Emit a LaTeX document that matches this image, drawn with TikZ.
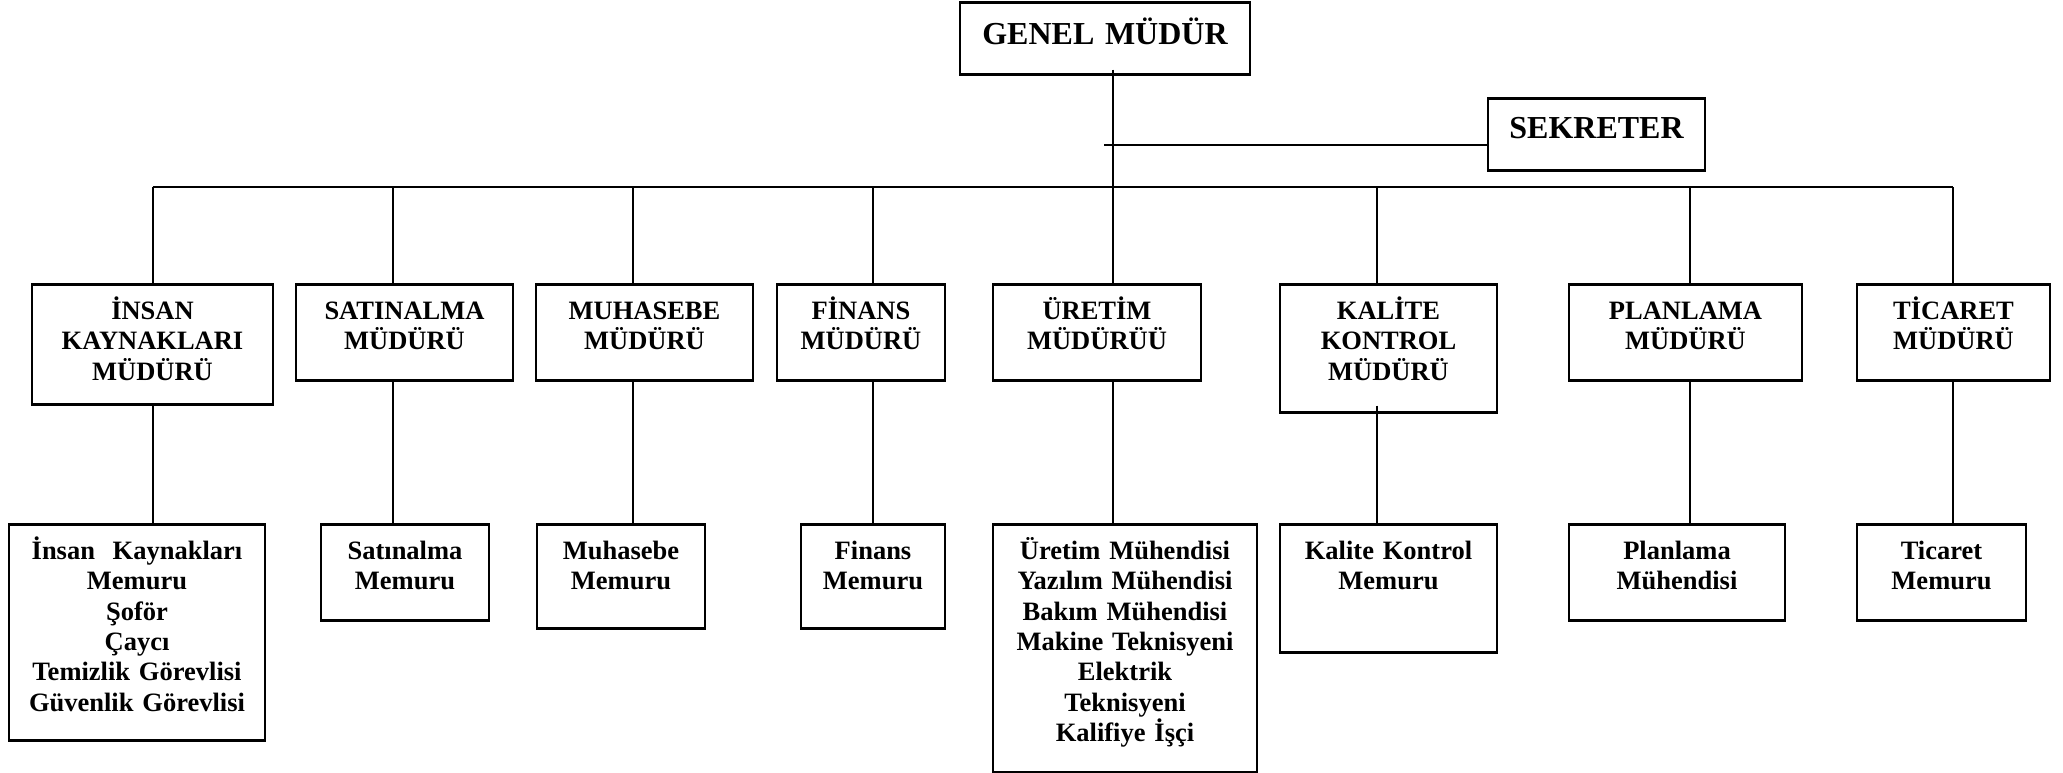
\documentclass[tikz,border=0pt]{standalone}
\usepackage{fontspec}
\setmainfont{Liberation Serif}
\begin{document}
\begin{tikzpicture}[x=0.5pt,y=-0.5pt,
  box/.style={draw, line width=1.3pt, inner sep=0pt, anchor=north, align=center,
    text height=17.5pt, font=\bfseries\fontsize{13.25}{15.2}\selectfont},
  headbox/.style={box, font=\bfseries\fontsize{16}{18}\selectfont},
  link/.style={line width=1pt}]
\useasboundingbox (0,0) rectangle (2063,772);

% top management
\node[headbox, text width=145pt, text height=21pt, text depth=15pt] (gm) at (1105,1) {GENEL MÜDÜR};
\node[headbox, text width=108.5pt, text height=20pt, text depth=16pt] (sk) at (1596.5,97) {SEKRETER};

% department managers
\node[box, text width=120.5pt, text depth=42.5pt] (hr)  at (152.5,283) {İNSAN\\KAYNAKLARI\\MÜDÜRÜ};
\node[box, text width=108.5pt, text depth=30.5pt] (sat) at (404.5,283) {SATINALMA\\MÜDÜRÜ};
\node[box, text width=108.5pt, text depth=30.5pt] (muh) at (644.5,283) {MUHASEBE\\MÜDÜRÜ};
\node[box, text width=84pt,    text depth=30.5pt] (fin) at (861,283)   {FİNANS\\MÜDÜRÜ};
\node[box, text width=104pt,   text depth=30.5pt] (ure) at (1097,283)  {ÜRETİM\\MÜDÜRÜÜ};
\node[box, text width=108.5pt, text depth=46.5pt] (kal) at (1388.5,283) {KALİTE\\KONTROL\\MÜDÜRÜ};
\node[box, text width=116.5pt, text depth=30.5pt] (pla) at (1685.5,283) {PLANLAMA\\MÜDÜRÜ};
\node[box, text width=96.5pt,  text depth=30.5pt] (tic) at (1953.5,283) {TİCARET\\MÜDÜRÜ};

% staff
\node[box, text width=128pt,   text depth=90.5pt]  (hr2)  at (137,523)   {İnsan~~Kaynakları\\Memuru\\Şoför\\Çaycı\\Temizlik Görevlisi\\Güvenlik Görevlisi};
\node[box, text width=84pt,    text depth=30.5pt]  (sat2) at (405,523)   {Satınalma\\Memuru};
\node[box, text width=84pt,    text depth=34.5pt]  (muh2) at (621,523)   {Muhasebe\\Memuru};
\node[box, text width=72pt,    text depth=34.5pt]  (fin2) at (873,523)   {Finans\\Memuru};
\node[box, text width=132pt,   text depth=106.5pt] (ure2) at (1125,523)  {Üretim Mühendisi\\Yazılım Mühendisi\\Bakım Mühendisi\\Makine Teknisyeni\\Elektrik\\Teknisyeni\\Kalifiye İşçi};
\node[box, text width=108.5pt, text depth=46.5pt]  (kal2) at (1388.5,523) {Kalite Kontrol\\Memuru};
\node[box, text width=108pt,   text depth=30.5pt]  (pla2) at (1677,523)  {Planlama\\Mühendisi};
\node[box, text width=84.5pt,  text depth=30.5pt]  (tic2) at (1941.5,523) {Ticaret\\Memuru};

% junction points on the horizontal bus
\coordinate (c1) at (152.7,187);
\coordinate (c2) at (392.9,187);
\coordinate (c3) at (633,187);
\coordinate (c4) at (872.8,187);
\coordinate (c5) at (1113,187);
\coordinate (c6) at (1377,187);
\coordinate (c7) at (1689.6,187);
\coordinate (c8) at (1953,187);
\coordinate (sj) at (1104,145);

% connectors
\draw[link] ([yshift=3pt]gm.south -| c5) -- (c5);
\draw[link] (sj) -- (sj -| sk.west);
\draw[link] (c1) -- (c8);
\draw[link] (c1) -- (c1 |- hr.north);
\draw[link] (c2) -- (c2 |- sat.north);
\draw[link] (c3) -- (c3 |- muh.north);
\draw[link] (c4) -- (c4 |- fin.north);
\draw[link] (c5) -- (c5 |- ure.north);
\draw[link] (c6) -- (c6 |- kal.north);
\draw[link] (c7) -- (c7 |- pla.north);
\draw[link] (c8) -- (c8 |- tic.north);

\draw[link] (c1 |- hr.south)  -- (c1 |- hr2.north);
\draw[link] (c2 |- sat.south) -- (c2 |- sat2.north);
\draw[link] (c3 |- muh.south) -- (c3 |- muh2.north);
\draw[link] (c4 |- fin.south) -- (c4 |- fin2.north);
\draw[link] (c5 |- ure.south) -- (c5 |- ure2.north);
\draw[link] ([yshift=4pt]kal.south -| c6) -- (c6 |- kal2.north);
\draw[link] (c7 |- pla.south) -- (c7 |- pla2.north);
\draw[link] (c8 |- tic.south) -- (c8 |- tic2.north);
\end{tikzpicture}
\end{document}
